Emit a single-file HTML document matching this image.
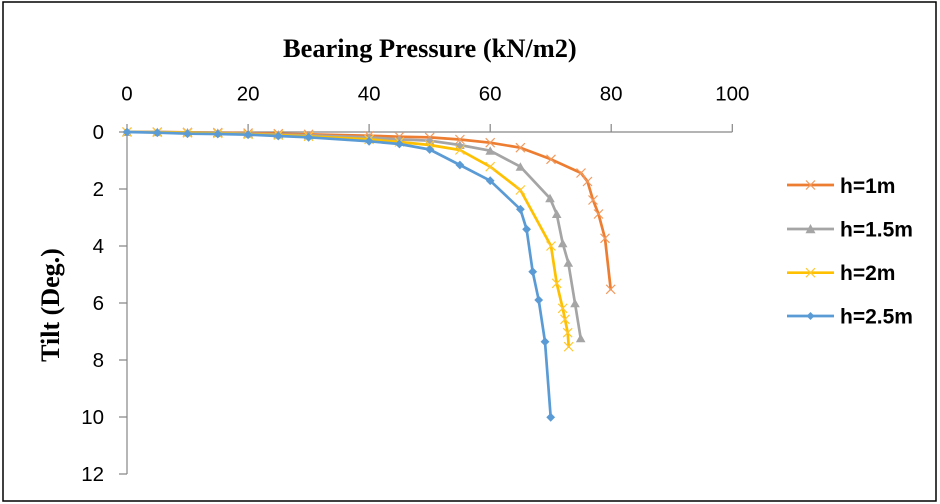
<!DOCTYPE html>
<html><head><meta charset="utf-8"><style>
html,body{margin:0;padding:0;background:#fff;}
svg{display:block;}
</style></head><body>
<svg width="940" height="504" viewBox="0 0 940 504" xmlns="http://www.w3.org/2000/svg">
<defs>
<marker id="mo" markerUnits="userSpaceOnUse" markerWidth="12" markerHeight="12" refX="6" refY="6" overflow="visible">
<path d="M1.5 1.5 L10.5 10.5 M10.5 1.5 L1.5 10.5" stroke="#F19A5E" stroke-width="1.2" fill="none"/>
</marker>
<marker id="my" markerUnits="userSpaceOnUse" markerWidth="12" markerHeight="12" refX="6" refY="6" overflow="visible">
<path d="M1.5 1.5 L10.5 10.5 M10.5 1.5 L1.5 10.5" stroke="#FFC832" stroke-width="1.2" fill="none"/>
</marker>
<marker id="mg" markerUnits="userSpaceOnUse" markerWidth="12" markerHeight="12" refX="6" refY="6" overflow="visible">
<path d="M6 1.5 L10.8 10 L1.2 10 Z" fill="#A5A5A5"/>
</marker>
<marker id="mb" markerUnits="userSpaceOnUse" markerWidth="12" markerHeight="12" refX="6" refY="6" overflow="visible">
<path d="M6 1.6 L10.4 6 L6 10.4 L1.6 6 Z" fill="#5B9BD5"/>
</marker>
</defs>
<rect x="3" y="2" width="933" height="499" fill="#fff" stroke="#000" stroke-width="1.5"/>

<!-- axes -->
<g stroke="#868686" stroke-width="1.2" fill="none">
<path d="M127 132 H732.3"/>
<path d="M127 124 V132 M248.1 124 V132 M369.1 124 V132 M490.2 124 V132 M611.2 124 V132 M732.3 124 V132"/>
<path d="M127 132 V474"/>
<path d="M119 132 H127 M119 189 H127 M119 246 H127 M119 303 H127 M119 360 H127 M119 417 H127 M119 474 H127"/>
</g>

<g font-family="Liberation Sans, sans-serif" font-size="20.5" fill="#000" text-anchor="middle">
<text x="127" y="100.5">0</text>
<text x="248.1" y="100.5">20</text>
<text x="369.1" y="100.5">40</text>
<text x="490.2" y="100.5">60</text>
<text x="611.2" y="100.5">80</text>
<text x="732.3" y="100.5">100</text>
</g>
<g font-family="Liberation Sans, sans-serif" font-size="20.5" fill="#000" text-anchor="end">
<text x="104" y="139">0</text>
<text x="104" y="196">2</text>
<text x="104" y="253">4</text>
<text x="104" y="310">6</text>
<text x="104" y="367">8</text>
<text x="104" y="424">10</text>
<text x="104" y="481">12</text>
</g>

<text x="283" y="57" font-family="Liberation Serif, serif" font-weight="bold" font-size="26.4" fill="#000">Bearing Pressure (kN/m2)</text>
<text transform="translate(59,305) rotate(-90)" text-anchor="middle" font-family="Liberation Serif, serif" font-weight="bold" font-size="26" fill="#000">Tilt (Deg.)</text>

<!-- series -->
<g fill="none" stroke-width="2.7" stroke-linejoin="round" stroke-linecap="round">
<polyline stroke="#ED7D31" marker-start="url(#mo)" marker-mid="url(#mo)" marker-end="url(#mo)"
points="127,132 157.3,132 187.5,132.3 217.8,132.6 248.1,133.1 278.3,133.7 308.6,134.3 369.1,135.7 399.4,136.7 429.7,137.4 459.9,139.5 490.2,142.7 520.4,147.7 551,159.3 581,173 587.5,181.5 593,200 598.5,214 605,238.3 610.7,289.3"/>
<polyline stroke="#A5A5A5" marker-start="url(#mg)" marker-mid="url(#mg)" marker-end="url(#mg)"
points="127,132 157.3,132.1 187.5,132.5 217.8,132.9 248.1,133.7 278.3,134.6 308.6,135.4 369.1,137.4 399.4,139.4 429.7,140.7 459.9,145 490.2,150.7 520.4,166.7 550,198.3 556.7,214 562.7,243.3 568.3,262.7 575,303.3 580.7,338.3"/>
<polyline stroke="#FFC000" marker-start="url(#my)" marker-mid="url(#my)" marker-end="url(#my)"
points="127,132 157.3,132.3 187.5,132.9 217.8,133.4 248.1,134.3 278.3,135.1 308.6,136.3 369.1,139.4 399.4,142 429.7,145 459.9,150 490.2,166.7 520.4,190 551,246 556.7,283.3 562.7,308.3 565,319.3 567.7,332.7 568.7,346.7"/>
<polyline stroke="#5B9BD5" marker-start="url(#mb)" marker-mid="url(#mb)" marker-end="url(#mb)"
points="127,132 157.3,132.7 187.5,133.7 217.8,134 248.1,134.7 278.3,136 308.6,137.3 369.1,141.3 399.4,144 429.7,149.5 459.9,165 490.2,180.7 520.4,209.3 526.6,229.3 532.7,271.7 538.7,300 545,341.7 550.7,417.3"/>
</g>

<!-- legend -->
<g stroke-width="2.7" fill="none">
<path d="M787 185 H834" stroke="#ED7D31"/>
<path d="M787 229 H834" stroke="#A5A5A5"/>
<path d="M787 272.7 H834" stroke="#FFC000"/>
<path d="M787 316 H834" stroke="#5B9BD5"/>
</g>
<path d="M806 180.5 L815 189.5 M815 180.5 L806 189.5" stroke="#F19A5E" stroke-width="1.2" fill="none"/>
<path d="M810.5 224 L815.5 233.2 L805.5 233.2 Z" fill="#A5A5A5"/>
<path d="M806 268.2 L815 277.2 M815 268.2 L806 277.2" stroke="#FFC832" stroke-width="1.2" fill="none"/>
<path d="M810.5 312 L814.5 316 L810.5 320 L806.5 316 Z" fill="#5B9BD5"/>
<g font-family="Liberation Sans, sans-serif" font-weight="bold" font-size="21" fill="#000">
<text x="840" y="193">h=1m</text>
<text x="840" y="236.5">h=1.5m</text>
<text x="840" y="280">h=2m</text>
<text x="840" y="323.5">h=2.5m</text>
</g>
</svg>
</body></html>
